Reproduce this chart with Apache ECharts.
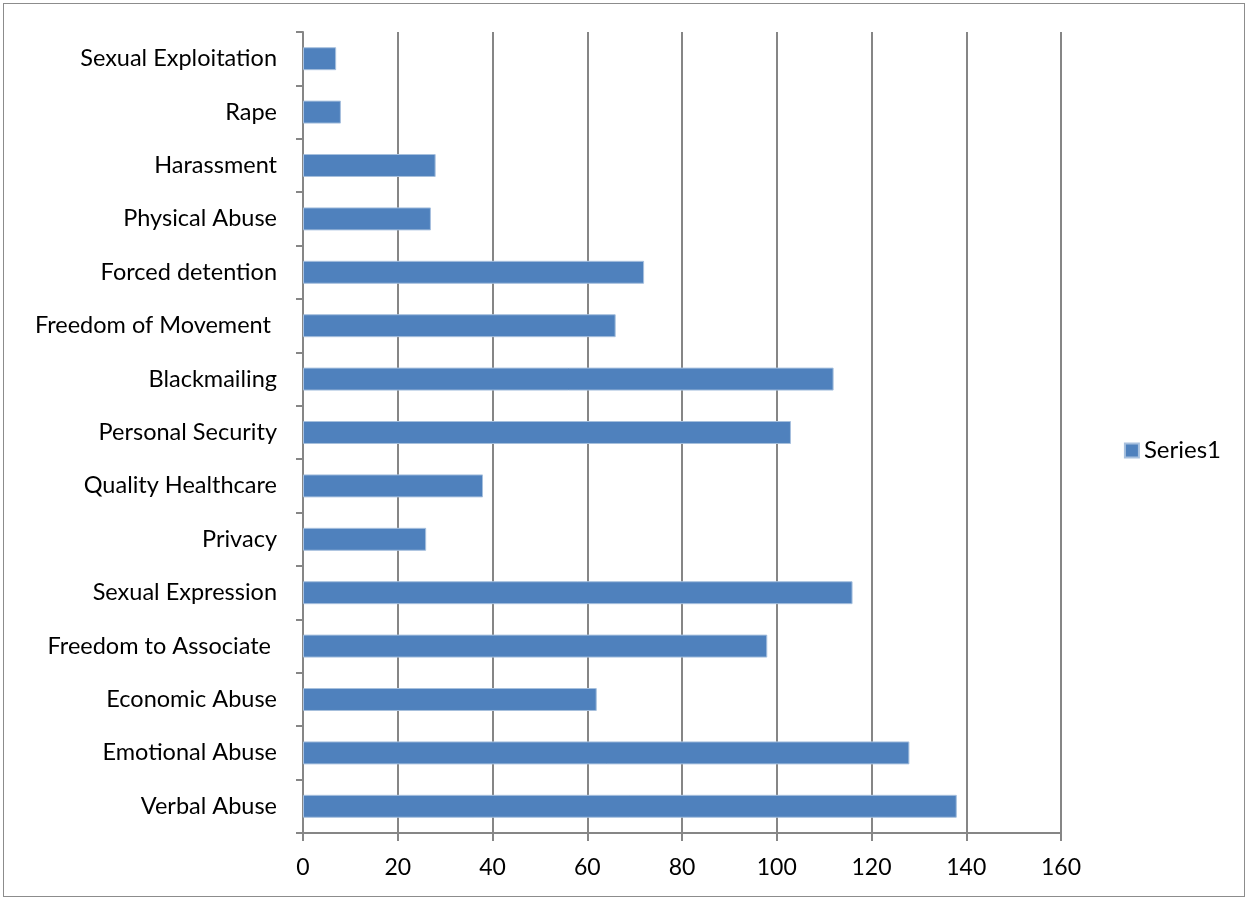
<!DOCTYPE html>
<html><head><meta charset="utf-8">
<script src="https://cdn.jsdelivr.net/npm/echarts@6/dist/echarts.min.js"></script>
<style>html,body{margin:0;padding:0;background:#fff}#c{width:1250px;height:901px}
#frame{position:absolute;left:3px;top:3px;width:1242px;height:894px;border:1px solid #8c8c8c;pointer-events:none;box-sizing:border-box}</style>
</head><body><div id="c"></div><div id="frame"></div>
<script>
const categories = ["Verbal Abuse","Emotional Abuse","Economic Abuse","Freedom to Associate ","Sexual Expression","Privacy","Quality Healthcare","Personal Security","Blackmailing","Freedom of Movement ","Forced detention","Physical Abuse","Harassment","Rape","Sexual Exploitation"];
const series1 = [138,128,62,98,116,26,38,103,112,66,72,27,28,8,7];
const seriesName = "Series1";
const chart = echarts.init(document.getElementById('c'));
const font = 'Lato, "Open Sans", sans-serif';
chart.setOption({
  animation:false,
  grid:{left:303,right:189,top:32,bottom:68},
  legend:{right:24,top:'middle',orient:'vertical',itemWidth:14,itemHeight:14,icon:'rect',itemGap:6,
    textStyle:{fontFamily:font,fontSize:24,color:'#000'},data:[seriesName]},
  xAxis:{type:'value',min:0,max:160,interval:20,
    axisLine:{show:true,lineStyle:{color:'#868686',width:2}},
    axisTick:{show:true,length:8,lineStyle:{color:'#868686',width:2}},
    axisLabel:{fontFamily:font,fontSize:23,color:'#000',margin:23},
    splitLine:{show:true,lineStyle:{color:'#868686',width:2}}},
  yAxis:{type:'category',data:categories,
    axisLine:{show:true,lineStyle:{color:'#868686',width:2}},
    axisTick:{show:true,length:7,lineStyle:{color:'#868686',width:2}},
    axisLabel:{fontFamily:font,fontSize:23.5,color:'#000',margin:26}},
  series:[{name:seriesName,type:'bar',data:series1,barWidth:'43%',
    itemStyle:{color:'#4F81BD',borderColor:'#A7C0DE',borderWidth:1}}]
});
</script></body></html>
